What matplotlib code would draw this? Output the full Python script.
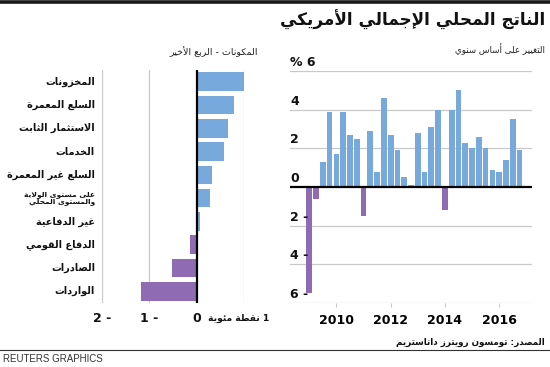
import numpy as np
import pandas as pd
import matplotlib
matplotlib.use("Agg")
import matplotlib.pyplot as plt
import matplotlib.transforms as mtransforms

# ── Data ──────────────────────────────────────────────────────────────────────
quarters = pd.period_range("2009Q1", "2016Q4", freq="Q")
gdp_growth = [-5.5, -0.6, 1.3, 3.9, 1.7, 3.9, 2.7, 2.5,
              -1.5, 2.9, 0.8, 4.6, 2.7, 1.9, 0.5, 0.1,
              2.8, 0.8, 3.1, 4.0, -1.2, 4.0, 5.0, 2.3,
              2.0, 2.6, 2.0, 0.9, 0.8, 1.4, 3.5, 1.9]
year_ticks = [2010, 2012, 2014, 2016]
gdp_yticks = [6, 4, 2, 0, -2, -4, -6]
gdp_ylabels = ["% 6", "4", "2", "0", "2 -", "4 -", "6 -"]

comp_labels = ["المخزونات", "السلع المعمرة", "الاستثمار الثابت", "الخدمات",
               "السلع غير المعمرة", "على مستوى الولاية\nوالمستوى المحلي",
               "غير الدفاعية", "الدفاع القومي", "الصادرات", "الواردات"]
comp_values = [1.0, 0.79, 0.67, 0.58, 0.32, 0.28, 0.06, -0.14, -0.53, -1.18]
comp_xticks = [-2, -1, 0, 1]

TITLE = "الناتج المحلي الإجمالي الأمريكي"
SUB_RIGHT = "التغيير على أساس سنوي"
SUB_LEFT = "المكونات - الربع الأخير"
UNIT = "نقطة مئوية"
SOURCE = "المصدر: تومسون رويترز داتاستريم"

BLUE = "#78a9dc"
PURPLE = "#8e6bb2"
GRID = "#c9c9c9"

# ── Arabic shaping (no raqm in matplotlib: use presentation forms, RTL) ──────
_LETTERS = "ءآأؤإئابةتثجحخدذرزسشصضطظعغفقكلمنهوىي"
_NFORMS = [1, 2, 2, 2, 2, 4, 2, 4, 2, 4, 4, 4, 4, 4, 2, 2, 2, 2,
           4, 4, 4, 4, 4, 4, 4, 4, 4, 4, 4, 4, 4, 4, 4, 2, 2, 4]
_FORMS = {}
_cp = 0xFE80
for _c, _n in zip(_LETTERS, _NFORMS):
    _FORMS[_c] = (_cp, _n)
    _cp += _n
_LAMALEF = {"آ": 0xFEF5, "أ": 0xFEF7, "إ": 0xFEF9, "ا": 0xFEFB}


def _dual(c):
    return c in _FORMS and _FORMS[c][1] == 4


def _joins(c):
    return c in _FORMS and c != "ء"


def shape_line(s):
    out = []
    i = 0
    while i < len(s):
        c = s[i]
        prev = s[i - 1] if i > 0 else ""
        nxt = s[i + 1] if i + 1 < len(s) else ""
        if c not in _FORMS:
            out.append(c)
            i += 1
            continue
        cp = _dual(prev)
        if c == "ل" and nxt in _LAMALEF:
            out.append(chr(_LAMALEF[nxt] + (1 if cp else 0)))
            i += 2
            continue
        base, n = _FORMS[c]
        if n == 4:
            form = (1 if cp else 0) + (2 if _joins(nxt) else 0)
        elif n == 2:
            form = 1 if cp else 0
        else:
            form = 0
        out.append(chr(base + form))
        i += 1
    return "".join(reversed(out))


def ar(s):
    return "\n".join(shape_line(line) for line in s.split("\n"))


plt.rcParams["font.family"] = ["DejaVu Sans"]

fig = plt.figure(figsize=(5.5, 3.67), dpi=100)
W, H = 550, 367


def fx(px):
    return px / W


def fy(py):
    return 1 - py / H


# top rule
fig.add_artist(plt.Line2D([0, 1], [fy(1.5), fy(1.5)], color="#1a1a1a", lw=2.6))
fig.text(fx(545), fy(20), ar(TITLE), ha="right", va="center",
         fontsize=12.2, fontweight="bold", color="#111111")
fig.text(fx(545), fy(49), ar(SUB_RIGHT), ha="right", va="center",
         fontsize=6.3, color="#222222")
fig.text(fx(258), fy(52), ar(SUB_LEFT), ha="right", va="center",
         fontsize=6.8, color="#222222")

# ── Right: quarterly growth ──────────────────────────────────────────────────
ax = fig.add_axes([fx(290), fy(303), fx(532 - 290), (303 - 71) / H])
xq = quarters.year + (quarters.quarter - 1) / 4
colors = [BLUE if v >= 0 else PURPLE for v in gdp_growth]
ax.bar(xq, gdp_growth, width=0.21, color=colors, zorder=2)
for y in gdp_yticks:
    if y != 0:
        ax.axhline(y, color=GRID, lw=0.9, zorder=1)
ax.axhline(0, color="black", lw=1.6, zorder=3)
ax.set_ylim(-6, 6)
ax.set_xlim(2008.29, 2017.21)
for sp in ax.spines.values():
    sp.set_visible(False)
ax.set_yticks([])
ax.set_xticks(year_ticks)
ax.set_xticklabels([str(y) for y in year_ticks], fontsize=9, fontweight="bold")
ax.tick_params(axis="x", length=3, color=GRID, pad=5)
trans = mtransforms.blended_transform_factory(ax.transAxes, ax.transData)
for y, lab in zip(gdp_yticks, gdp_ylabels):
    ax.text(0.0, y + 0.1, lab, transform=trans, ha="left", va="bottom",
            fontsize=9, fontweight="bold", color="#111111")

# ── Left: components ─────────────────────────────────────────────────────────
ax2 = fig.add_axes([fx(102), fy(303), fx(244 - 102), (303 - 70) / H])
ypos = np.arange(len(comp_labels))
ccolors = [BLUE if v >= 0 else PURPLE for v in comp_values]
ax2.barh(ypos, comp_values, height=0.8, color=ccolors, zorder=2)
for x in comp_xticks:
    if x != 0:
        ax2.axvline(x, color=GRID, lw=0.9, zorder=1)
ax2.axvline(0, color="black", lw=1.6, zorder=3)
ax2.set_xlim(-2, 1)
ax2.set_ylim(len(comp_labels) - 0.5, -0.5)
for sp in ax2.spines.values():
    sp.set_visible(False)
ax2.set_yticks([])
ax2.set_xticks([])
for yp, lab in zip(ypos, comp_labels):
    multi = "\n" in lab
    ax2.text(-2.15, yp, ar(lab), ha="right", va="center",
             fontsize=5.4 if multi else 7.0, fontweight="bold",
             linespacing=1.15, color="#111111")
for x in comp_xticks:
    if x == 1:
        ax2.text(1.54, 9.5 + 0.65, ar(UNIT) + " 1", ha="right", va="center",
                 fontsize=6.6, fontweight="bold", color="#111111")
    else:
        lab = "0" if x == 0 else f"{abs(x)} -"
        ax2.text(x, 9.5 + 0.65, lab, ha="center", va="center",
                 fontsize=9, fontweight="bold", color="#111111")

# ── Footer ───────────────────────────────────────────────────────────────────
fig.text(fx(545), fy(342), ar(SOURCE), ha="right", va="center",
         fontsize=6.3, fontweight="bold", color="#111111")
fig.add_artist(plt.Line2D([0, 1], [fy(350), fy(350)], color="#333333", lw=0.8))
fig.text(fx(3), fy(359), "REUTERS GRAPHICS", ha="left", va="center",
         fontsize=7, color="#333333", family="Liberation Sans")

fig.savefig("out.png", dpi=100, facecolor="white")
